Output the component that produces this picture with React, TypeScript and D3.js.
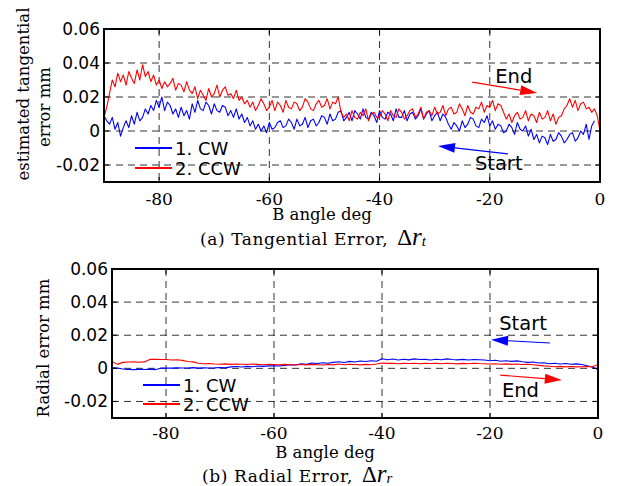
import React from 'react';
import * as d3 from 'd3';

// ---------- data (error values in micrometres, axis labels in mm) ----------
const X_TICKS = [-80, -60, -40, -20, 0];
const X_TICK_LABELS = ['-80', '-60', '-40', '-20', '0'];
const Y_TICKS = [-20, 0, 20, 40, 60];
const Y_TICK_LABELS = ['-0.02', '0', '0.02', '0.04', '0.06'];
const X_DOMAIN: [number, number] = [-90, 0];
const Y_DOMAIN: [number, number] = [-30, 60];
const SERIES_NAMES = ['1. CW', '2. CCW'];
const SERIES_COLORS = ['#0000ff', '#ff0000'];

// Tangential error, sampled every 0.5 deg starting at -90 deg
const TAN_START = -90;
const TAN_STEP = 0.5;
const TAN_CW = [
  9, 6, 4, 8, 1, 5, -3, 2, 6, 2, 9, 4, 11, 6, 8, 13, 10, 15, 12, 18,
  14, 20, 12, 17, 15, 10, 13, 8, 14, 9, 12, 7, 16, 11, 18, 13, 12, 17, 15, 10,
  16, 12, 11, 15, 14, 9, 12, 8, 13, 7, 10, 5, 8, 3, 6, 1, 4, 0, 3, -1,
  5, 1, 2, 5, 6, 2, 3, 7, 5, 1, 7, 3, 4, 8, 2, 6, 7, 3, 5, 9,
  8, 4, 10, 6, 7, 11, 12, 6, 8, 11, 6, 12, 10, 7, 13, 8, 7, 11, 9, 5,
  12, 8, 7, 11, 10, 6, 13, 8, 8, 12, 6, 10, 11, 7, 9, 13, 7, 10, 12, 6,
  9, 11, 6, 10, 8, 4, 1, 5, 3, 0, 6, 2, 4, 8, 7, 3, 2, 7, 5, 9,
  3, 6, 1, 4, 3, -1, 0, 4, 2, -2, 5, 1, 0, 3, -3, 1, -5, -2, -7, -3,
  -4, -8, -2, -6, -5, -1, -3, -7, -5, -2, -1, -6, -4, 0, -2, 4, -5, 3, 6,
];
const TAN_CCW = [
  8, 14, 22, 30, 26, 34, 29, 33, 27, 35, 31, 28, 36, 30, 39, 32, 35, 29, 33, 27,
  30, 25, 29, 26, 28, 31, 24, 28, 27, 23, 29, 24, 22, 26, 19, 24, 21, 18, 25, 20,
  22, 27, 20, 24, 26, 21, 22, 19, 24, 18, 20, 16, 18, 14, 17, 12, 15, 19, 16, 12,
  14, 18, 12, 17, 15, 11, 18, 14, 13, 17, 16, 12, 14, 19, 17, 13, 12, 16, 18, 14,
  15, 19, 13, 17, 16, 20, 11, 8, 10, 6, 12, 8, 7, 11, 9, 13, 6, 10, 11, 8,
  8, 12, 10, 6, 12, 9, 8, 13, 11, 7, 9, 12, 13, 8, 10, 14, 7, 11, 12, 9,
  14, 10, 11, 15, 9, 13, 14, 10, 11, 16, 13, 9, 15, 11, 10, 14, 13, 17, 11, 15,
  14, 18, 12, 16, 15, 11, 7, 10, 5, 9, 11, 7, 8, 12, 6, 10, 9, 5, 11, 7,
  8, 12, 6, 10, 4, 8, 9, 13, 15, 19, 14, 18, 12, 16, 17, 13, 14, 11, 13, 9,
  0,
];

// Radial error, sampled every 1 deg starting at -90 deg
const RAD_START = -90;
const RAD_STEP = 1;
const RAD_CW = [
  0.4, 0.2,
  -0.4, -0.6, -0.8, -0.6, -0.7, -0.5, -0.8, 0.1,
  0.2, 0.1, 0.3, 0.2, 0.2, 0.4, 0.1, 0.3, 0.2, 0.3,
  0.5, 0.3, 0.9, 1.1, 0.8, 1.2, 1.0, 1.4, 1.2, 1.5,
  1.6, 1.4, 1.8, 2.2, 2.0, 2.8, 2.4, 3.2, 2.9, 3.4,
  3.1, 3.6, 4.0, 3.5, 4.2, 3.8, 4.4, 4.1, 4.6, 4.3,
  5.8, 5.2, 5.6, 5.0, 5.5, 5.1, 5.7, 5.3, 5.4, 5.0,
  5.5, 5.2, 5.7, 5.3, 5.1, 5.4, 5.0, 5.3, 5.2, 5.0,
  4.6, 4.9, 4.3, 4.6, 4.2, 4.5, 4.0, 3.6, 3.8, 3.2,
  3.4, 2.8, 3.1, 2.6, 2.9, 2.5, 2.7, 2.3, 1.6, 0.6,
  -0.7,
];
const RAD_CCW = [
  4.2, 2.4, 3.6, 3.8, 3.9, 3.7, 3.9, 5.4, 5.5, 5.3,
  5.3, 5.0, 5.2, 4.8, 4.1, 3.9, 3.1, 2.8, 2.9, 2.6,
  2.5, 2.7, 2.4, 2.6, 2.5, 2.3, 2.6, 2.4, 2.2, 2.5,
  2.3, 2.1, 2.4, 2.2, 2.0, 2.3, 2.1, 2.4, 2.2, 2.0,
  2.3, 2.1, 2.6, 2.2, 2.5, 2.3, 2.1, 2.4, 2.2, 2.6,
  3.2, 3.0, 3.1, 2.8, 3.0, 2.9, 3.1, 2.8, 3.0, 2.9,
  3.0, 2.8, 3.1, 2.9, 2.7, 3.0, 2.8, 3.1, 2.9, 2.8,
  2.6, 2.8, 2.5, 2.7, 2.4, 2.6, 2.3, 2.5, 2.2, 1.8,
  1.5, 1.3, 1.0, 1.2, 0.9, 1.1, 0.9, 1.0, 1.1, 1.0,
  2.3,
];

// Annotations (data coordinates: deg, µm)
const TAN_END_TEXT = { x: -19.0, y: 28.2, text: 'End' };
const TAN_END_ARROW = { x1: -23.2, y1: 28.8, x2: -11.4, y2: 22.4 };
const TAN_START_TEXT = { x: -22.7, y: -22.9, text: 'Start' };
const TAN_START_ARROW = { x1: -16.7, y1: -13.5, x2: -29.4, y2: -8.8 };
const RAD_START_TEXT = { x: -18.3, y: 23.2, text: 'Start' };
const RAD_START_ARROW = { x1: -8.9, y1: 15.3, x2: -19.8, y2: 17.2 };
const RAD_END_TEXT = { x: -17.8, y: -17.4, text: 'End' };
const RAD_END_ARROW = { x1: -18.1, y1: -4.1, x2: -6.7, y2: -7.1 };

const SANS = '"DejaVu Sans", sans-serif';
const SERIF = '"DejaVu Serif", serif';
const TIMES = '"Liberation Serif", serif';

type Arrow = { x1: number; y1: number; x2: number; y2: number };
type Label = { x: number; y: number; text: string };

function ArrowMark({ a, color, x, y, head, headW }: { a: Arrow; color: string; x: any; y: any; head: number; headW: number }) {
  const X1 = x(a.x1), Y1 = y(a.y1), X2 = x(a.x2), Y2 = y(a.y2);
  const dx = X2 - X1, dy = Y2 - Y1;
  const len = Math.hypot(dx, dy);
  const ux = dx / len, uy = dy / len;
  const bx = X2 - ux * head, by = Y2 - uy * head;
  const px = -uy * headW / 2, py = ux * headW / 2;
  return (
    <g>
      <line x1={X1} y1={Y1} x2={bx} y2={by} stroke={color} strokeWidth={1.2} />
      <polygon points={`${X2},${Y2} ${bx + px},${by + py} ${bx - px},${by - py}`} fill={color} />
    </g>
  );
}

function Panel(props: {
  id: string;
  left: number; right: number; top: number; bottom: number;
  cw: number[]; ccw: number[]; start: number; step: number;
  yLabelLines: { text: string; x: number; cy: number }[];
  legendY: [number, number];
  texts: Label[];
  arrows: { a: Arrow; color: string }[];
  caption: { x: number; y: number; prefix: string; sub: string };
  xLabelY: number; tickLabelY: number;
}) {
  const { left, right, top, bottom } = props;
  const x = d3.scaleLinear().domain(X_DOMAIN).range([left, right]);
  const y = d3.scaleLinear().domain(Y_DOMAIN).range([bottom, top]);
  const line = d3.line<number>()
    .x((_, i) => x(props.start + i * props.step))
    .y((v) => y(v));
  const series = [props.cw, props.ccw];
  const gridStyle = { stroke: '#333', strokeWidth: 1, strokeDasharray: '7,5' };
  return (
    <g>
      <defs>
        <clipPath id={`clip-${props.id}`}>
          <rect x={left} y={top} width={right - left} height={bottom - top} />
        </clipPath>
      </defs>
      {/* grid */}
      {X_TICKS.filter((t) => t > X_DOMAIN[0] && t < X_DOMAIN[1]).map((t) => (
        <line key={`gx${t}`} x1={x(t)} x2={x(t)} y1={top} y2={bottom} {...gridStyle} />
      ))}
      {Y_TICKS.filter((t) => t > Y_DOMAIN[0] && t < Y_DOMAIN[1]).map((t) => (
        <line key={`gy${t}`} x1={left} x2={right} y1={y(t)} y2={y(t)} {...gridStyle} />
      ))}
      {/* series */}
      <g clipPath={`url(#clip-${props.id})`}>
        {series.map((s, i) => (
          <path key={i} d={line(s) || ''} fill="none" stroke={SERIES_COLORS[i]} strokeWidth={1.1} strokeLinejoin="round" />
        ))}
      </g>
      {/* ticks inside */}
      {X_TICKS.map((t) => (
        <g key={`tx${t}`}>
          <line x1={x(t)} x2={x(t)} y1={bottom} y2={bottom - 5} stroke="#000" />
          <line x1={x(t)} x2={x(t)} y1={top} y2={top + 5} stroke="#000" />
        </g>
      ))}
      {Y_TICKS.map((t) => (
        <g key={`ty${t}`}>
          <line x1={left} x2={left + 5} y1={y(t)} y2={y(t)} stroke="#000" />
          <line x1={right} x2={right - 5} y1={y(t)} y2={y(t)} stroke="#000" />
        </g>
      ))}
      {/* box */}
      <rect x={left} y={top} width={right - left} height={bottom - top} fill="none" stroke="#000" strokeWidth={2} />
      {/* tick labels */}
      {X_TICKS.map((t, i) => (
        <text key={`lx${t}`} x={x(t)} y={props.tickLabelY} textAnchor="middle" fontFamily={SERIF} fontSize={17} fill="#000">
          {X_TICK_LABELS[i]}
        </text>
      ))}
      {Y_TICKS.map((t, i) => (
        <text key={`ly${t}`} x={left - 4} y={y(t) + 6} textAnchor="end" fontFamily={SANS} fontSize={17} fill="#000">
          {Y_TICK_LABELS[i]}
        </text>
      ))}
      {/* axis labels */}
      <text x={(left + right) / 2 - 30} y={props.xLabelY} textAnchor="middle" fontFamily={SERIF} fontSize={16.5} fill="#000">
        B angle deg
      </text>
      {props.yLabelLines.map((l, i) => (
        <text key={i} transform={`translate(${l.x},${l.cy}) rotate(-90)`} textAnchor="middle" fontFamily={SERIF} fontSize={16.5} fill="#000">
          {l.text}
        </text>
      ))}
      {/* legend */}
      {SERIES_NAMES.map((n, i) => (
        <g key={n}>
          <line x1={left + 31} x2={left + 68} y1={props.legendY[i]} y2={props.legendY[i]} stroke={SERIES_COLORS[i]} strokeWidth={2} />
          <text x={left + 71} y={props.legendY[i] + 6.5} fontFamily={SANS} fontSize={18} fill="#000">{n}</text>
        </g>
      ))}
      {/* annotations */}
      {props.arrows.map((a, i) => (
        <ArrowMark key={i} a={a.a} color={a.color} x={x} y={y} head={17} headW={10} />
      ))}
      {props.texts.map((t, i) => (
        <text key={i} x={x(t.x)} y={y(t.y)} fontFamily={SANS} fontSize={19.5} fill="#000">{t.text}</text>
      ))}
      {/* caption */}
      <text x={props.caption.x} y={props.caption.y} fontFamily={SERIF} fontSize={17} letterSpacing={0.6} fill="#000">
        {props.caption.prefix}
        <tspan dx={9} fontSize={23} letterSpacing={0} fontFamily={TIMES}>Δ</tspan>
        <tspan fontSize={25} letterSpacing={0} fontStyle="italic" fontFamily={TIMES}>r</tspan>
        <tspan fontSize={15} letterSpacing={0} fontStyle="italic" dy={1} fontFamily={TIMES}>{props.caption.sub}</tspan>
      </text>
    </g>
  );
}

export default function App() {
  return (
    <svg width={622} height={486} style={{ position: 'absolute', left: 0, top: 0, background: '#fff' }}>
      <rect x={0} y={0} width={622} height={486} fill="#fff" />
      <Panel
        id="tan"
        left={104} right={600} top={29} bottom={182}
        cw={TAN_CW} ccw={TAN_CCW} start={TAN_START} step={TAN_STEP}
        yLabelLines={[{ text: 'estimated tangential', x: 29, cy: 94 }, { text: 'error mm', x: 50, cy: 107 }]}
        legendY={[148, 168]}
        texts={[TAN_END_TEXT, TAN_START_TEXT]}
        arrows={[{ a: TAN_END_ARROW, color: '#ff0000' }, { a: TAN_START_ARROW, color: '#0000ff' }]}
        caption={{ x: 200, y: 245, prefix: '(a) Tangential Error,', sub: 't' }}
        xLabelY={220} tickLabelY={205}
      />
      <Panel
        id="rad"
        left={112} right={598} top={269} bottom={418}
        cw={RAD_CW} ccw={RAD_CCW} start={RAD_START} step={RAD_STEP}
        yLabelLines={[{ text: 'Radial error mm', x: 49, cy: 348 }]}
        legendY={[385, 404]}
        texts={[RAD_START_TEXT, RAD_END_TEXT]}
        arrows={[{ a: RAD_START_ARROW, color: '#0000ff' }, { a: RAD_END_ARROW, color: '#ff0000' }]}
        caption={{ x: 202, y: 482, prefix: '(b) Radial Error,', sub: 'r' }}
        xLabelY={458} tickLabelY={439}
      />
    </svg>
  );
}
